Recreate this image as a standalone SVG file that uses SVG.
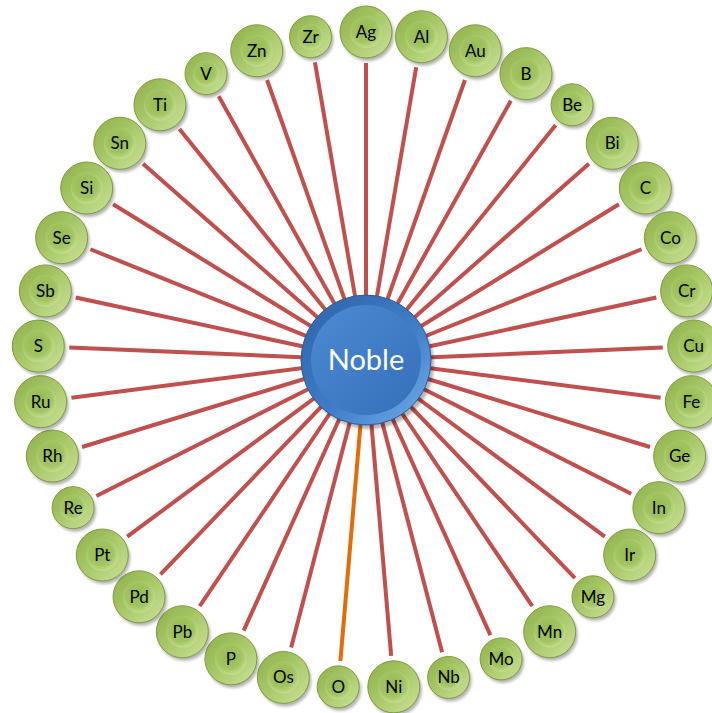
<svg xmlns="http://www.w3.org/2000/svg" xmlns:xlink="http://www.w3.org/1999/xlink" width="712" height="713" viewBox="0 0 712 713">
<style>
.c{stroke:#C0504D;stroke-width:4;fill:none}
.co{stroke:#E36C0A;stroke-width:4;fill:none}
.lbl{font-family:Lato,"Open Sans","Liberation Sans",sans-serif;font-size:17px;fill:#000;text-anchor:middle}
.main{font-family:Lato,"Open Sans","Liberation Sans",sans-serif;font-size:29px;fill:#fff;text-anchor:middle}
</style>
<defs>
<filter id="sh" x="-30%" y="-30%" width="160%" height="160%"><feGaussianBlur stdDeviation="1.6"/></filter>
<linearGradient id="gO" x1="0" y1="0" x2="1" y2="1"><stop offset="0" stop-color="#8DAF48"/><stop offset="0.5" stop-color="#A9C96A"/><stop offset="1" stop-color="#CDE29A"/></linearGradient>
<radialGradient id="gI" cx="0.45" cy="0.42" r="0.6"><stop offset="0" stop-color="#95BA50"/><stop offset="0.65" stop-color="#A2C462"/><stop offset="1" stop-color="#C8DE90"/></radialGradient>
<linearGradient id="bO" x1="0" y1="0" x2="1" y2="1"><stop offset="0" stop-color="#2E63A8"/><stop offset="0.55" stop-color="#3F7CC6"/><stop offset="1" stop-color="#72AEEC"/></linearGradient>
<linearGradient id="bI" x1="0" y1="0" x2="1" y2="1"><stop offset="0" stop-color="#4C8AD3"/><stop offset="1" stop-color="#3470B9"/></linearGradient>
<g id="nL"><circle cx="2" cy="3" r="26" fill="#000" opacity="0.3" filter="url(#sh)"/><circle r="26" fill="url(#gO)" stroke="#7E9E3E" stroke-width="1"/><circle r="16" fill="url(#gI)"/></g>
<g id="nS"><circle cx="2" cy="3" r="21" fill="#000" opacity="0.3" filter="url(#sh)"/><circle r="21" fill="url(#gO)" stroke="#7E9E3E" stroke-width="1"/><circle r="13" fill="url(#gI)"/></g>
</defs>
<rect width="712" height="713" fill="#fff"/>
<g id="connectors">
<line class="c" transform="translate(366 360) rotate(0)" y2="-297"/>
<line class="c" transform="translate(366 360) rotate(9.7297)" y2="-297"/>
<line class="c" transform="translate(366 360) rotate(19.4595)" y2="-297"/>
<line class="c" transform="translate(366 360) rotate(29.1892)" y2="-297"/>
<line class="c" transform="translate(366 360) rotate(38.9189)" y2="-302"/>
<line class="c" transform="translate(366 360) rotate(48.6486)" y2="-297"/>
<line class="c" transform="translate(366 360) rotate(58.3784)" y2="-297"/>
<line class="c" transform="translate(366 360) rotate(68.1081)" y2="-297"/>
<line class="c" transform="translate(366 360) rotate(77.8378)" y2="-297"/>
<line class="c" transform="translate(366 360) rotate(87.5676)" y2="-297"/>
<line class="c" transform="translate(366 360) rotate(97.2973)" y2="-297"/>
<line class="c" transform="translate(366 360) rotate(107.027)" y2="-297"/>
<line class="c" transform="translate(366 360) rotate(116.7568)" y2="-297"/>
<line class="c" transform="translate(366 360) rotate(126.4865)" y2="-297"/>
<line class="c" transform="translate(366 360) rotate(136.2162)" y2="-302"/>
<line class="c" transform="translate(366 360) rotate(145.9459)" y2="-297"/>
<line class="c" transform="translate(366 360) rotate(155.6757)" y2="-302"/>
<line class="c" transform="translate(366 360) rotate(165.4054)" y2="-302"/>
<line class="c" transform="translate(366 360) rotate(175.1351)" y2="-297"/>
<line class="co" transform="translate(366 360) rotate(184.8649)" y2="-302"/>
<line class="c" transform="translate(366 360) rotate(194.5946)" y2="-297"/>
<line class="c" transform="translate(366 360) rotate(204.3243)" y2="-297"/>
<line class="c" transform="translate(366 360) rotate(214.0541)" y2="-297"/>
<line class="c" transform="translate(366 360) rotate(223.7838)" y2="-297"/>
<line class="c" transform="translate(366 360) rotate(233.5135)" y2="-297"/>
<line class="c" transform="translate(366 360) rotate(243.2432)" y2="-302"/>
<line class="c" transform="translate(366 360) rotate(252.973)" y2="-297"/>
<line class="c" transform="translate(366 360) rotate(262.7027)" y2="-297"/>
<line class="c" transform="translate(366 360) rotate(272.4324)" y2="-297"/>
<line class="c" transform="translate(366 360) rotate(282.1622)" y2="-297"/>
<line class="c" transform="translate(366 360) rotate(291.8919)" y2="-297"/>
<line class="c" transform="translate(366 360) rotate(301.6216)" y2="-297"/>
<line class="c" transform="translate(366 360) rotate(311.3514)" y2="-297"/>
<line class="c" transform="translate(366 360) rotate(321.0811)" y2="-297"/>
<line class="c" transform="translate(366 360) rotate(330.8108)" y2="-302"/>
<line class="c" transform="translate(366 360) rotate(340.5405)" y2="-297"/>
<line class="c" transform="translate(366 360) rotate(350.2703)" y2="-302"/>
</g>
<g id="n-Ag" transform="translate(366 360) rotate(0) translate(0 -328) rotate(0)"><use href="#nL"/><text class="lbl" y="6">Ag</text></g>
<g id="n-Al" transform="translate(366 360) rotate(9.7297) translate(0 -328) rotate(-9.7297)"><use href="#nL"/><text class="lbl" y="6">Al</text></g>
<g id="n-Au" transform="translate(366 360) rotate(19.4595) translate(0 -328) rotate(-19.4595)"><use href="#nL"/><text class="lbl" y="6">Au</text></g>
<g id="n-B" transform="translate(366 360) rotate(29.1892) translate(0 -328) rotate(-29.1892)"><use href="#nL"/><text class="lbl" y="6">B</text></g>
<g id="n-Be" transform="translate(366 360) rotate(38.9189) translate(0 -328) rotate(-38.9189)"><use href="#nS"/><text class="lbl" y="6">Be</text></g>
<g id="n-Bi" transform="translate(366 360) rotate(48.6486) translate(0 -328) rotate(-48.6486)"><use href="#nL"/><text class="lbl" y="6">Bi</text></g>
<g id="n-C" transform="translate(366 360) rotate(58.3784) translate(0 -328) rotate(-58.3784)"><use href="#nL"/><text class="lbl" y="6">C</text></g>
<g id="n-Co" transform="translate(366 360) rotate(68.1081) translate(0 -328) rotate(-68.1081)"><use href="#nL"/><text class="lbl" y="6">Co</text></g>
<g id="n-Cr" transform="translate(366 360) rotate(77.8378) translate(0 -328) rotate(-77.8378)"><use href="#nL"/><text class="lbl" y="6">Cr</text></g>
<g id="n-Cu" transform="translate(366 360) rotate(87.5676) translate(0 -328) rotate(-87.5676)"><use href="#nL"/><text class="lbl" y="6">Cu</text></g>
<g id="n-Fe" transform="translate(366 360) rotate(97.2973) translate(0 -328) rotate(-97.2973)"><use href="#nL"/><text class="lbl" y="6">Fe</text></g>
<g id="n-Ge" transform="translate(366 360) rotate(107.027) translate(0 -328) rotate(-107.027)"><use href="#nL"/><text class="lbl" y="6">Ge</text></g>
<g id="n-In" transform="translate(366 360) rotate(116.7568) translate(0 -328) rotate(-116.7568)"><use href="#nL"/><text class="lbl" y="6">In</text></g>
<g id="n-Ir" transform="translate(366 360) rotate(126.4865) translate(0 -328) rotate(-126.4865)"><use href="#nL"/><text class="lbl" y="6">Ir</text></g>
<g id="n-Mg" transform="translate(366 360) rotate(136.2162) translate(0 -328) rotate(-136.2162)"><use href="#nS"/><text class="lbl" y="6">Mg</text></g>
<g id="n-Mn" transform="translate(366 360) rotate(145.9459) translate(0 -328) rotate(-145.9459)"><use href="#nL"/><text class="lbl" y="6">Mn</text></g>
<g id="n-Mo" transform="translate(366 360) rotate(155.6757) translate(0 -328) rotate(-155.6757)"><use href="#nS"/><text class="lbl" y="6">Mo</text></g>
<g id="n-Nb" transform="translate(366 360) rotate(165.4054) translate(0 -328) rotate(-165.4054)"><use href="#nS"/><text class="lbl" y="6">Nb</text></g>
<g id="n-Ni" transform="translate(366 360) rotate(175.1351) translate(0 -328) rotate(-175.1351)"><use href="#nL"/><text class="lbl" y="6">Ni</text></g>
<g id="n-O" transform="translate(366 360) rotate(184.8649) translate(0 -328) rotate(-184.8649)"><use href="#nS"/><text class="lbl" y="6">O</text></g>
<g id="n-Os" transform="translate(366 360) rotate(194.5946) translate(0 -328) rotate(-194.5946)"><use href="#nL"/><text class="lbl" y="6">Os</text></g>
<g id="n-P" transform="translate(366 360) rotate(204.3243) translate(0 -328) rotate(-204.3243)"><use href="#nL"/><text class="lbl" y="6">P</text></g>
<g id="n-Pb" transform="translate(366 360) rotate(214.0541) translate(0 -328) rotate(-214.0541)"><use href="#nL"/><text class="lbl" y="6">Pb</text></g>
<g id="n-Pd" transform="translate(366 360) rotate(223.7838) translate(0 -328) rotate(-223.7838)"><use href="#nL"/><text class="lbl" y="6">Pd</text></g>
<g id="n-Pt" transform="translate(366 360) rotate(233.5135) translate(0 -328) rotate(-233.5135)"><use href="#nL"/><text class="lbl" y="6">Pt</text></g>
<g id="n-Re" transform="translate(366 360) rotate(243.2432) translate(0 -328) rotate(-243.2432)"><use href="#nS"/><text class="lbl" y="6">Re</text></g>
<g id="n-Rh" transform="translate(366 360) rotate(252.973) translate(0 -328) rotate(-252.973)"><use href="#nL"/><text class="lbl" y="6">Rh</text></g>
<g id="n-Ru" transform="translate(366 360) rotate(262.7027) translate(0 -328) rotate(-262.7027)"><use href="#nL"/><text class="lbl" y="6">Ru</text></g>
<g id="n-S" transform="translate(366 360) rotate(272.4324) translate(0 -328) rotate(-272.4324)"><use href="#nL"/><text class="lbl" y="6">S</text></g>
<g id="n-Sb" transform="translate(366 360) rotate(282.1622) translate(0 -328) rotate(-282.1622)"><use href="#nL"/><text class="lbl" y="6">Sb</text></g>
<g id="n-Se" transform="translate(366 360) rotate(291.8919) translate(0 -328) rotate(-291.8919)"><use href="#nL"/><text class="lbl" y="6">Se</text></g>
<g id="n-Si" transform="translate(366 360) rotate(301.6216) translate(0 -328) rotate(-301.6216)"><use href="#nL"/><text class="lbl" y="6">Si</text></g>
<g id="n-Sn" transform="translate(366 360) rotate(311.3514) translate(0 -328) rotate(-311.3514)"><use href="#nL"/><text class="lbl" y="6">Sn</text></g>
<g id="n-Ti" transform="translate(366 360) rotate(321.0811) translate(0 -328) rotate(-321.0811)"><use href="#nL"/><text class="lbl" y="6">Ti</text></g>
<g id="n-V" transform="translate(366 360) rotate(330.8108) translate(0 -328) rotate(-330.8108)"><use href="#nS"/><text class="lbl" y="6">V</text></g>
<g id="n-Zn" transform="translate(366 360) rotate(340.5405) translate(0 -328) rotate(-340.5405)"><use href="#nL"/><text class="lbl" y="6">Zn</text></g>
<g id="n-Zr" transform="translate(366 360) rotate(350.2703) translate(0 -328) rotate(-350.2703)"><use href="#nS"/><text class="lbl" y="6">Zr</text></g>
<g id="n-Noble" transform="translate(366 360)">
<circle cx="3" cy="4" r="65" fill="#000" opacity="0.3" filter="url(#sh)"/>
<circle r="65" fill="url(#bO)" stroke="#2C5C9A" stroke-width="1"/>
<circle r="55" fill="url(#bI)"/>
<text class="main" y="10">Noble</text>
</g>
</svg>
